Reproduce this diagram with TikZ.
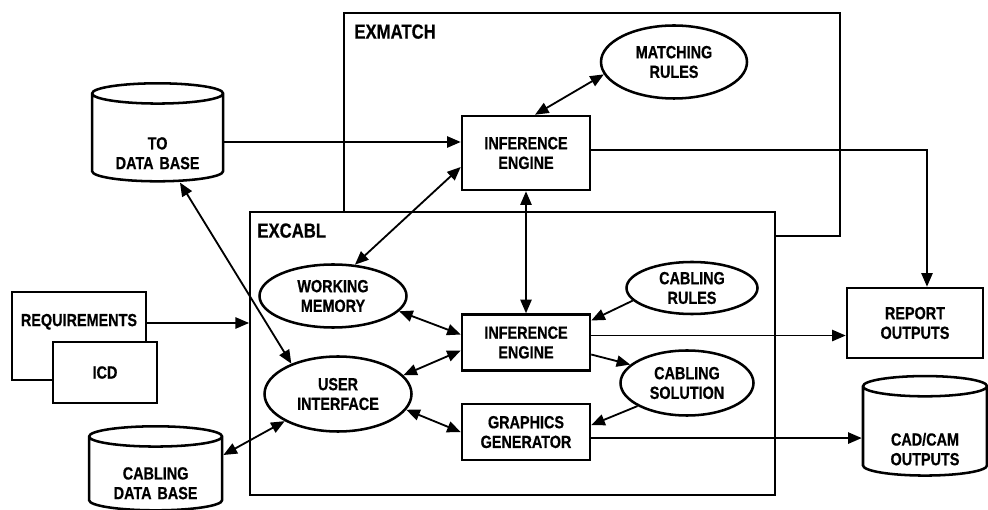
\documentclass[tikz,border=0pt]{standalone}
\usepackage{fontspec}
\newfontfamily\diagfont{Liberation Sans}[FakeStretch=0.82, BoldFeatures={FakeBold=0.6}]
\usetikzlibrary{shapes.geometric, arrows.meta, positioning, calc}
\newcommand{\boxfont}{\diagfont\bfseries\fontsize{12.5}{14}\selectfont}
\newcommand{\framefont}{\diagfont\bfseries\fontsize{14.5}{16}\selectfont}
\tikzstyle{block}    = [rectangle, draw=black, line width=1.8pt, fill=white,
                        minimum width=3.2cm, minimum height=1.4cm,
                        align=center, font=\boxfont]
\tikzstyle{oval}     = [ellipse, draw=black, line width=1.8pt, fill=white,
                        inner sep=0pt, align=center, font=\boxfont]
\tikzstyle{dbase}    = [cylinder, shape border rotate=90, aspect=0.22,
                        draw=black, line width=1.8pt, fill=white, inner sep=0pt,
                        text width=2.3cm, align=center, font=\boxfont]
\tikzstyle{frame}    = [rectangle, draw=black, line width=1.3pt, fill=white]
\tikzstyle{framelbl} = [anchor=north west, inner sep=0pt, font=\framefont]
\tikzstyle{arr}      = [-{Triangle[length=3.4mm,width=2.8mm]}, line width=1.3pt]
\tikzstyle{arrs}     = [{Triangle[length=3.4mm,width=2.8mm]}-{Triangle[length=3.4mm,width=2.8mm]},
                        line width=1.3pt]

\begin{document}
\begin{tikzpicture}

  \useasboundingbox (0,0) rectangle (24.7,12.725);

  % the two expert systems
  \node[frame, minimum width=12.4cm, minimum height=5.575cm]
      (exmatch) at (14.8,9.6125) {};
  \node[framelbl] (exmatchlbl) at ([xshift=0.275cm, yshift=-0.3cm]exmatch.north west) {EXMATCH};
  \node[frame, minimum width=13.125cm, minimum height=7.075cm]
      (excabl) at (12.8125,3.8875) {};
  \node[framelbl] (excabllbl) at ([xshift=0.2cm, yshift=-0.3cm]excabl.north west) {EXCABL};

  % engines
  \node[block, minimum height=1.85cm] (tie) at (13.15,8.9) {INFERENCE\\ENGINE};
  \node[block, below=3.05cm of tie] (lie) {INFERENCE\\ENGINE};
  \node[block, below=0.775cm of lie] (gg) {GRAPHICS\\GENERATOR};

  % rule bases and memories
  \node[oval, minimum width=3.65cm, minimum height=1.825cm]
      (mrules) at (16.85,11.175) {MATCHING\\RULES};
  \node[oval, minimum width=3.275cm, minimum height=1.3cm]
      (crules) at (17.3,5.525) {CABLING\\RULES};
  \node[oval, minimum width=3.325cm, minimum height=1.625cm]
      (csol) at (17.175,3.15) {CABLING\\SOLUTION};
  \node[oval, minimum width=3.675cm, minimum height=1.575cm]
      (wm) at (8.325,5.325) {WORKING\\MEMORY};
  \node[oval, minimum width=3.675cm, minimum height=1.875cm]
      (ui) at (8.45,2.875) {USER\\INTERFACE};

  % data bases
  \node[dbase, minimum width=3.275cm, minimum height=2.45cm, text height=1.07cm]
      (todb) at (3.94,9.275) {TO\\DATA BASE};
  \node[dbase, minimum width=3.325cm, minimum height=2.1cm, text height=0.77cm]
      (cdb) at (3.89,0.875) {CABLING\\DATA BASE};
  \node[dbase, minimum width=3.1cm, minimum height=2.425cm, text height=1.2cm]
      (cadcam) at (23.125,1.9375) {CAD/CAM\\OUTPUTS};

  % inputs and outputs
  \node[block, minimum width=3.35cm, minimum height=2.2cm,
        label={[font=\boxfont, yshift=-0.775cm, anchor=center]north:REQUIREMENTS}]
      (req) at (1.975,4.325) {};
  \node[block, minimum width=2.6cm, minimum height=1.525cm]
      (icd) at (2.625,3.4125) {ICD};
  \node[block, minimum width=3.4cm, minimum height=1.75cm]
      (report) at (22.875,4.65) {REPORT\\OUTPUTS};

  \draw[arr] ([yshift=-0.1cm]todb.east) -- ([yshift=-0.1cm]todb.east -| tie.west);
  \draw[arr] ([yshift=0.075cm]tie.east) -| ([xshift=0.3cm]report.north);
  \draw[arrs] ([xshift=0.225cm]tie.north) -- (mrules.190);
  \draw[arrs] (tie.south) -- (lie.north);
  \draw[arrs] ([yshift=-0.35cm]tie.west) -- (wm.55);
  \draw[arrs] ([xshift=0.56cm]todb.south) -- (ui.147);

  \draw[arrs] (wm.-13) -- ([yshift=0.2cm]lie.west);
  \draw[arrs] (ui.16) -- ([yshift=-0.2cm]lie.west);
  \draw[arrs] (ui.-13) -- (gg.west);
  \draw[arrs] (ui.207) -- ([yshift=0.475cm]cdb.east);
  \draw[arr] ([yshift=0.325cm]req.east) -- ([yshift=0.325cm]req.east -| excabl.west);

  \draw[arr] (crules.192) -- ([yshift=0.55cm]lie.east);
  \draw[arr] ([yshift=-0.3cm]lie.east) -- (csol.162);
  \draw[arr] (csol.205) -- ([yshift=0.175cm]gg.east);
  \draw[arr] ([yshift=0.175cm]lie.east) -- ([yshift=0.175cm]lie.east -| report.west);
  \draw[arr] ([yshift=-0.15cm]gg.east) -- ([yshift=-0.15cm]gg.east -| cadcam.west);

\end{tikzpicture}
\end{document}
